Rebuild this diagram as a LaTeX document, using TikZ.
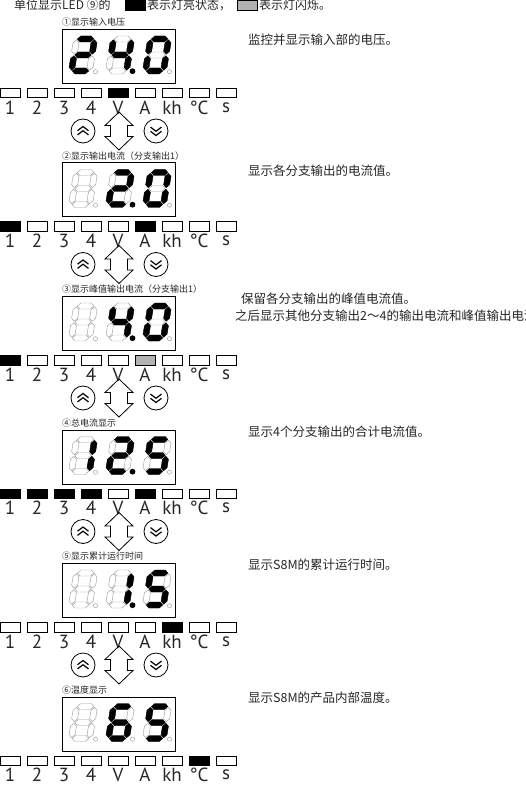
\documentclass[tikz,border=0pt]{standalone}
\usepackage{fontspec}
\setmainfont{PT Sans}
\newfontfamily\cjk{Noto Sans CJK SC}
\definecolor{offgray}{gray}{0.62}
\definecolor{txt}{gray}{0.15}
% seven segment paths (local coords, y negative = up)
\def\SGa{(3.8,-35)--(6.8,-38)--(17.2,-38)--(20.2,-35)--(17.2,-32)--(6.8,-32)--cycle}
\def\SGg{(3.8,-19)--(6.8,-22)--(17.2,-22)--(20.2,-19)--(17.2,-16)--(6.8,-16)--cycle}
\def\SGd{(3.8,-3)--(6.8,-6)--(17.2,-6)--(20.2,-3)--(17.2,0)--(6.8,0)--cycle}
\def\SGe{(3,-3.8)--(6,-6.8)--(6,-15.2)--(3,-18.2)--(0,-15.2)--(0,-6.8)--cycle}
\def\SGc{(21,-3.8)--(24,-6.8)--(24,-15.2)--(21,-18.2)--(18,-15.2)--(18,-6.8)--cycle}
\def\SGf{(3,-19.8)--(6,-22.8)--(6,-31.2)--(3,-34.2)--(0,-31.2)--(0,-22.8)--cycle}
\def\SGb{(21,-19.8)--(24,-22.8)--(24,-31.2)--(21,-34.2)--(18,-31.2)--(18,-22.8)--cycle}
\def\SGn{(0,0)}
\tikzset{
  dispbox/.style={draw=black, line width=0.8pt, minimum width=113pt, minimum height=54pt, inner sep=0, anchor=north west},
  offseg/.style={draw=offgray, line width=0.45pt},
  onseg/.style={fill=black, draw=black, line width=0.3pt},
  indbox/.style={draw=black, line width=0.7pt, minimum width=20pt, minimum height=9.5pt, inner sep=0, anchor=north west},
  indlbl/.style={font=\fontsize{19}{19}\selectfont, inner sep=0, text=txt},
  steplbl/.style={font=\cjk\fontsize{9}{9}\selectfont, anchor=west, inner sep=0, text=txt},
  desc/.style={font=\cjk\fontsize{12.5}{12.5}\selectfont, anchor=west, inner sep=0, text=txt},
  hdr/.style={font=\cjk\fontsize{12}{12}\selectfont, anchor=west, inner sep=0, text=txt},
  btn/.style={circle, draw=black, line width=0.8pt, minimum size=24pt, inner sep=0},
  chev/.style={line width=1.2pt, line join=miter},
  barrow/.style={draw=black, line width=0.8pt, line join=miter},
}
% digit: #1 x, #2 bottom y, #3 lit segments, #4 position, #5 lit dp position
\newcommand\sdig[5]{%
  \begin{scope}[shift={(#1,#2)}, xslant=0.16]
    \foreach \s in {a,b,c,d,e,f,g}{\path[offseg] \csname SG\s\endcsname;}
    \foreach \s in {#3}{\path[onseg] \csname SG\s\endcsname;}
  \end{scope}
  \ifnum#4=#5\relax
    \fill[black] (#1+27.5,#2-2.8) circle (2.9pt);
  \else
    \draw[offgray, line width=0.45pt] (#1+27.5,#2-2.3) circle (2.1pt);
  \fi
}
% display: #1 id, #2 top y, #3 label, #4-#6 digits, #7 lit dp
\newcommand\showdisp[7]{%
  \node[dispbox] (disp#1) at (62,#2) {};
  \node[steplbl] (lbl#1) at (62,#2-6.5) {#3};
  \sdig{68}{#2+45}{#4}{1}{#7}
  \sdig{105}{#2+45}{#5}{2}{#7}
  \sdig{142}{#2+45}{#6}{3}{#7}
}
% indicator row: #1 id, #2 top y, #3 fills
\newcommand\indrow[3]{%
  \foreach \fc [count=\j from 0] in {#3}{%
    \node[indbox, fill=\fc] (ind#1-\j) at ({27*\j},#2) {};
  }
  \foreach \lb [count=\j from 0] in {1,2,3,4,V,A,kh,°C,s}{%
    \node[indlbl] (il#1-\j) at ({27*\j+10},#2+19.5) {\lb};
  }
}
% buttons: #1 id, #2 center y
\newcommand\btns[2]{%
  \node[btn] (up#1) at (83,#2) {};
  \draw[chev] ([shift={(-5.5,-0.3)}]up#1.center) -- ++(5.5,-4.2) -- ++(5.5,4.2);
  \draw[chev] ([shift={(-5.5,3.9)}]up#1.center) -- ++(5.5,-4.2) -- ++(5.5,4.2);
  \node[btn] (dn#1) at (156,#2) {};
  \draw[chev] ([shift={(-5.5,0.3)}]dn#1.center) -- ++(5.5,4.2) -- ++(5.5,-4.2);
  \draw[chev] ([shift={(-5.5,-3.9)}]dn#1.center) -- ++(5.5,4.2) -- ++(5.5,-4.2);
  \coordinate (ar#1) at (119,#2);
  \draw[barrow] ([shift={(0,-19)}]ar#1) -- ++(14,13.5) -- ++(-5.5,0) -- ++(0,11) -- ++(5.5,0)
     -- ++(-14,13.5) -- ++(-14,-13.5) -- ++(5.5,0) -- ++(0,-11) -- ++(-5.5,0) -- cycle;
}
\begin{document}
\begin{tikzpicture}[x=1pt,y=-1pt]
\useasboundingbox (0,0) rectangle (526,786);
\clip (0,0) rectangle (526,786);
% header
\node[hdr] (h1) at (14,5) {单位显示LED ⑨的};
\node[indbox, fill=black] (hb) at (125,0.5) {};
\node[hdr] (h2) at (147,5) {表示灯亮状态，};
\node[indbox, fill=black!30] (hg) at (237,0.5) {};
\node[hdr] (h3) at (259,5) {表示灯闪烁。};
% row 1
\showdisp{1}{29}{①显示输入电压}{a,b,g,e,d}{f,g,b,c}{a,b,c,d,e,f}{2}
\indrow{1}{88}{white,white,white,white,black,white,white,white,white}
\btns{1}{131}
\node[desc] (d1) at (248,40) {监控并显示输入部的电压。};
% row 2
\showdisp{2}{162.5}{②显示输出电流（分支输出1）}{n}{a,b,g,e,d}{a,b,c,d,e,f}{2}
\indrow{2}{221.5}{black,white,white,white,white,black,white,white,white}
\btns{2}{264.5}
\node[desc] (d2) at (248,171) {显示各分支输出的电流值。};
% row 3
\showdisp{3}{296}{③显示峰值输出电流（分支输出1）}{n}{f,g,b,c}{a,b,c,d,e,f}{2}
\indrow{3}{355}{black,white,white,white,white,black!30,white,white,white}
\btns{3}{398}
\node[desc] (d3a) at (241,299) {保留各分支输出的峰值电流值。};
\node[desc] (d3b) at (235,316) {之后显示其他分支输出2～4的输出电流和峰值输出电流。};
% row 4
\showdisp{4}{429.5}{④总电流显示}{b,c}{a,b,g,e,d}{a,f,g,c,d}{2}
\indrow{4}{488.5}{black,black,black,black,white,black,white,white,white}
\btns{4}{531.5}
\node[desc] (d4) at (248,432) {显示4个分支输出的合计电流值。};
% row 5
\showdisp{5}{563}{⑤显示累计运行时间}{n}{b,c}{a,f,g,c,d}{2}
\indrow{5}{622}{white,white,white,white,white,white,black,white,white}
\btns{5}{665}
\node[desc] (d5) at (248,565) {显示S8M的累计运行时间。};
% row 6
\showdisp{6}{696.5}{⑥温度显示}{n}{a,f,g,e,c,d}{a,f,g,c,d}{0}
\indrow{6}{755.5}{white,white,white,white,white,white,white,black,white}
\node[desc] (d6) at (248,698) {显示S8M的产品内部温度。};
\end{tikzpicture}
\end{document}
